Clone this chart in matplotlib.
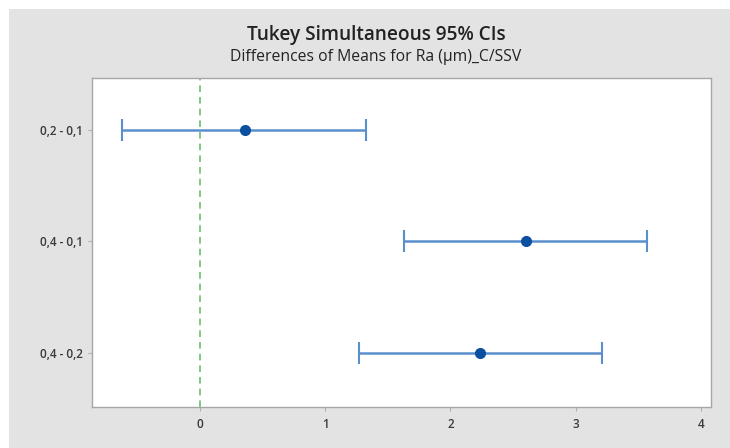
import numpy as np
import matplotlib
matplotlib.use("Agg")
import matplotlib.pyplot as plt
from matplotlib.patches import Rectangle

# Tukey simultaneous 95% CIs
comparisons = ["0,2 - 0,1", "0,4 - 0,1", "0,4 - 0,2"]
diff_means = [0.36, 2.60, 2.24]
ci_lower = [-0.62, 1.63, 1.27]
ci_upper = [1.33, 3.57, 3.21]
x_ticks = [0, 1, 2, 3, 4]

plt.rcParams['font.family'] = ['Open Sans', 'DejaVu Sans']

bg = "#e3e3e3"
fig = plt.figure(figsize=(7.3, 4.48), dpi=100, facecolor="white")
# grey panel (thin white border on top and left like the original screenshot)
fig.patches.append(Rectangle((9 / 730, 0), 1, 1 - 9 / 448, transform=fig.transFigure,
                             facecolor=bg, edgecolor="none", zorder=-10))

ax = fig.add_axes([92 / 730, 1 - 407 / 448, (711 - 92) / 730, (407 - 78) / 448])
ax.set_facecolor("white")
ax.set_zorder(1)

y = np.arange(len(comparisons))
xerr = np.array([np.array(diff_means) - np.array(ci_lower),
                 np.array(ci_upper) - np.array(diff_means)])

ax.axvline(0, color="#6cc06c", linestyle=(0, (4, 3)), linewidth=1.2, zorder=1)
ax.errorbar(diff_means, y, xerr=xerr, fmt="none", ecolor="#5b8fcc",
            elinewidth=1.8, capsize=8, capthick=1.5, zorder=2)
ax.plot(diff_means, y, "o", color="#0b4fa0", markersize=7, zorder=3)

ax.set_xlim(-0.86, 4.08)
ax.set_ylim(2.49, -0.47)
ax.set_yticks(y)
ax.set_yticklabels(comparisons)
ax.set_xticks(x_ticks)

for s in ax.spines.values():
    s.set_color("#a6a6a6")
    s.set_linewidth(1.0)
ax.tick_params(axis="both", colors="#b0b0b0", length=3, width=0.8,
               labelcolor="#3a3a3a", labelsize=8.5)
ax.tick_params(axis="x", pad=5)
for lbl in ax.get_xticklabels() + ax.get_yticklabels():
    lbl.set_fontweight("semibold")

fig.text(376 / 730, 1 - 35 / 448, "Tukey Simultaneous 95% CIs", ha="center", va="center",
         fontsize=13.7, fontweight="semibold", color="#222222")
fig.text(376 / 730, 1 - 57 / 448, "Differences of Means for Ra (\u00b5m)_C/SSV", ha="center",
         va="center", fontsize=11.3, fontweight="medium", color="#222222")

fig.savefig("out.png", dpi=100, facecolor=fig.get_facecolor())
